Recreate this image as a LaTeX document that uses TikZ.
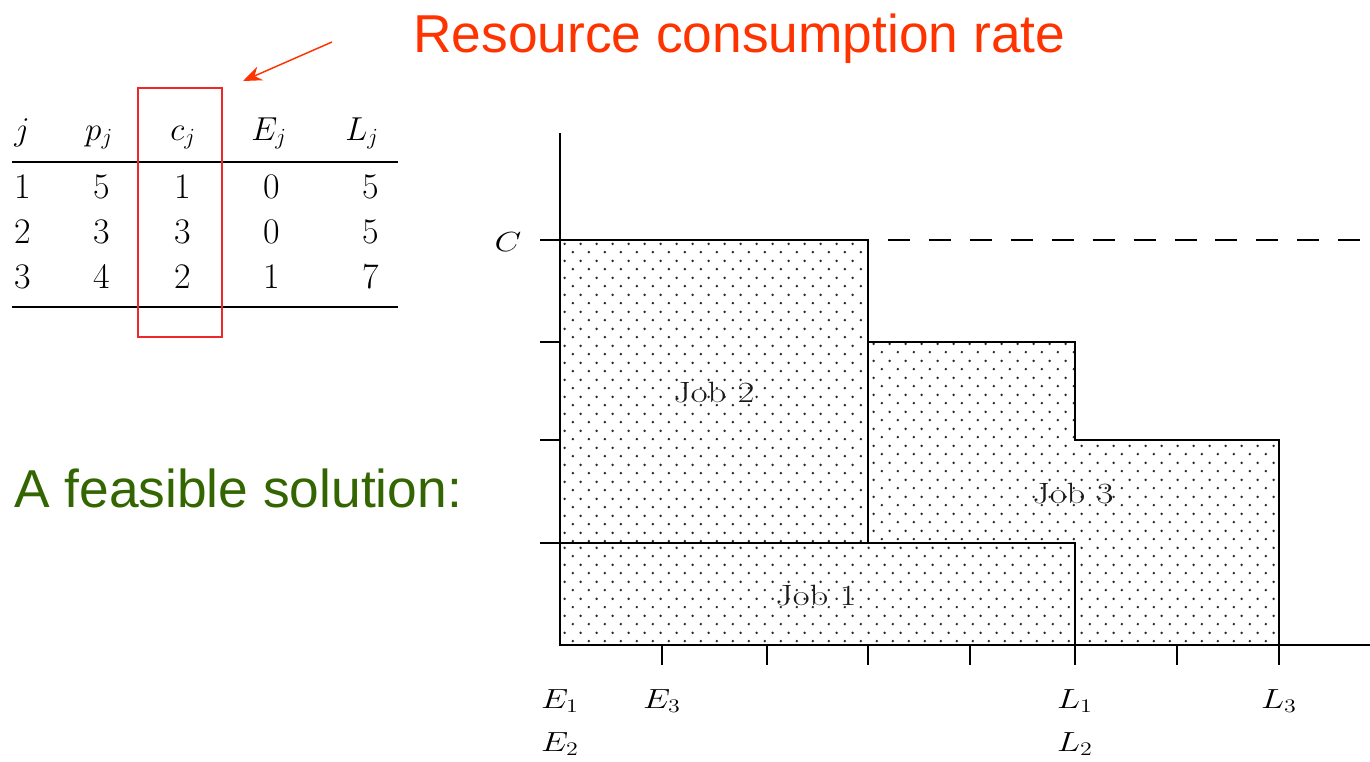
\documentclass[tikz,border=0pt]{standalone}
\usepackage{fontspec}
\newfontfamily\arialfont{Liberation Sans}
\usetikzlibrary{patterns,arrows.meta}
\definecolor{rcr}{HTML}{FF3300}
\definecolor{boxred}{RGB}{238,40,40}
\definecolor{feasgreen}{RGB}{51,102,0}
\pgfdeclarepatternformonly{jobdots}{\pgfpointorigin}{\pgfpoint{12.2pt}{12.5pt}}{\pgfpoint{12.2pt}{12.5pt}}{%
  \pgfpathcircle{\pgfpoint{3pt}{3pt}}{1.05pt}%
  \pgfpathcircle{\pgfpoint{9.1pt}{9.25pt}}{1.05pt}%
  \pgfusepath{fill}}
\tikzset{
  cell/.style={inner sep=0pt, anchor=base, font=\fontsize{27}{30}\selectfont},
  axlbl/.style={inner sep=0pt, anchor=base, xscale=1.25, font=\fontsize{22}{26}\selectfont},
  joblbl/.style={inner sep=0pt, anchor=base, xscale=1.25, text=black!90, font=\fontsize{22}{26}\selectfont},
  jobfill/.style={pattern=jobdots, pattern color=black!85},
  edge/.style={line width=1.6pt},
  bigtext/.style={inner sep=0pt, anchor=base west, font=\arialfont\fontsize{40}{46}\selectfont},
}
\begin{document}
\begin{tikzpicture}[x=0.75pt,y=-0.75pt]
\useasboundingbox (0,0) rectangle (1370,761);
% ---- table ----
\node[cell] (hj) at (22,140) {$j$};
\node[cell] (hp) at (99,140) {$p_j$};
\node[cell] (hc) at (183,140) {$c_j$};
\node[cell] (hE) at (269,140) {$E_j$};
\node[cell] (hL) at (362,140) {$L_j$};
\draw[line width=1.7pt] (12,162) -- (398,162);
\node[cell] (r1a) at (23,198) {1};
\node[cell] (r1b) at (102,198) {5};
\node[cell] (r1c) at (183,198) {1};
\node[cell] (r1d) at (272,198) {0};
\node[cell] (r1e) at (371,198) {5};
\node[cell] (r2a) at (23,243) {2};
\node[cell] (r2b) at (102,243) {3};
\node[cell] (r2c) at (183,243) {3};
\node[cell] (r2d) at (272,243) {0};
\node[cell] (r2e) at (371,243) {5};
\node[cell] (r3a) at (23,288) {3};
\node[cell] (r3b) at (102,288) {4};
\node[cell] (r3c) at (183,288) {2};
\node[cell] (r3d) at (272,288) {1};
\node[cell] (r3e) at (371,288) {7};
\draw[line width=1.7pt] (12,307) -- (398,307);
% red box around c_j column
\draw[boxred, line width=1.1pt] (138,88) rectangle (222,337);
% annotation
\node[bigtext, text=rcr] (rcrtext) at (413,52) {Resource consumption rate};
\coordinate (arrstart) at (332,42);
\coordinate (arrend) at (243,81);
\draw[rcr, line width=1.1pt, -{Stealth[length=14pt,width=11pt]}] (arrstart) -- (arrend);
\node[bigtext, text=feasgreen] (feas) at (14,507) {A feasible solution:};
% ---- chart ----
\fill[jobfill] (560,240) rectangle (868,543);
\fill[jobfill] (560,543) rectangle (1075,645);
\fill[jobfill] (868,342) -- (1075,342) -- (1075,440) -- (1279,440) -- (1279,645) -- (1075,645) -- (1075,543) -- (868,543) -- cycle;
\draw[edge] (560,240) rectangle (868,543);
\draw[edge] (560,543) rectangle (1075,645);
\draw[edge] (868,543) -- (868,342) -- (1075,342) -- (1075,440) -- (1279,440) -- (1279,645);
% axes
\draw[edge] (560,133) -- (560,645) -- (1370,645);
\foreach \yy in {240,342,440,543} \draw[edge] (540,\yy) -- (560,\yy);
\foreach \xx in {662,767,868,970,1075,1177,1279} \draw[edge] (\xx,645) -- (\xx,665);
\draw[edge, dash pattern=on 16.5pt off 14.2pt] (888,240) -- (1370,240);
% labels
\node[axlbl] (lC) at (508,251) {$C$};
\node[axlbl] (lE1) at (560,708) {$E_1$};
\node[axlbl] (lE2) at (560,751) {$E_2$};
\node[axlbl] (lE3) at (662,708) {$E_3$};
\node[axlbl] (lL1) at (1075,708) {$L_1$};
\node[axlbl] (lL2) at (1075,751) {$L_2$};
\node[axlbl] (lL3) at (1279,708) {$L_3$};
\node[joblbl] (j2) at (714,402) {Job 2};
\node[joblbl] (j3) at (1073,503) {Job 3};
\node[joblbl] (j1) at (816,605) {Job 1};
\end{tikzpicture}
\end{document}
